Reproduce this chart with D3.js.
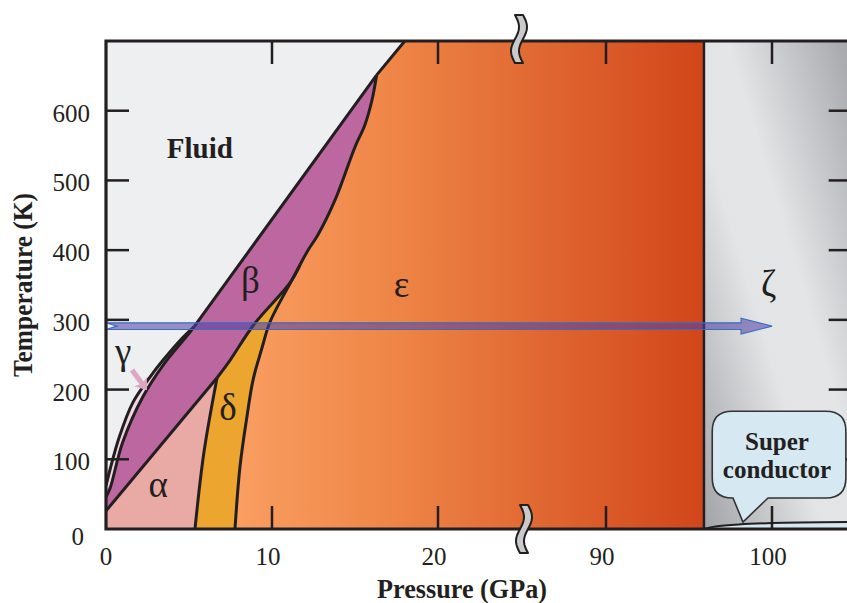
<!DOCTYPE html>
<html><head><meta charset="utf-8">
<script src="https://cdn.jsdelivr.net/npm/d3@7/dist/d3.min.js"></script>
<style>body{margin:0;background:#fff}svg{display:block}</style>
</head><body>
<svg id="c" width="847" height="603"></svg>
<script>
// ---- data (pressure in GPa, temperature in K) ----
const xTicks=[0,10,20,90,100];
const yTicks=[0,100,200,300,400,500,600];
const meltLine=[[0,62],[0.24,85],[0.8,132],[1.63,182],[2.65,218],[3.43,242],[4.64,275],[5.3,290],[16.3,651],[18.0,700]];
const gammaBeta=[[0,46],[0.24,58],[1.0,124],[2.23,190],[3.5,237],[4.88,277],[5.3,290]];
const betaAlpha=[[0,26],[6.69,217]];
const betaDelta=[[6.69,217],[7.47,242],[8.9,293],[11.08,353],[11.69,379]];
const betaEps=[[11.69,379],[12.17,400],[12.77,422],[13.8,472],[15.0,548],[15.6,580],[16.02,615],[16.3,651]];
const deltaEps=[[7.77,0],[8.07,89],[8.49,161],[8.86,214],[9.4,260],[9.88,297],[11.2,357],[11.69,379]];
const alphaDelta=[[5.36,0],[5.9,110],[6.69,217]];
const zetaP=95.9;
const superLine=[[95.9,0],[96.6,3.5],[98,6.5],[100,8.5],[104.8,10]];
const roomT=291, arrowEndP=100;
const phaseLabels=[{t:"α",p:3.15,T:46},{t:"β",p:8.7,T:339},{t:"γ",p:1.03,T:237},{t:"δ",p:7.35,T:157},{t:"ε",p:17.8,T:333},{t:"ζ",p:99.8,T:334}];
const gammaArrow=[[1.57,228],[2.47,199]];
const bubble={p0:96.4,p1:104.45,T0:44.5,T1:169,tailL:97.65,tailR:99.76,tipP:98.25,tipT:10};

// ---- scales ----
const pMax=104.8,tMax=700;
const x=d3.scaleLinear().domain([0,25,85,pMax]).range([106,521,523,523+(pMax-85)*16.6]);
const y=d3.scaleLinear().domain([0,tMax]).range([529,41]);
const svg=d3.select("#c");
const ink="#231F20";
const serif='"Liberation Serif","Times New Roman",serif';

const defs=svg.append("defs");
const eg=defs.append("linearGradient").attr("id","eps").attr("gradientUnits","userSpaceOnUse")
  .attr("x1",x(7.5)).attr("x2",x(zetaP)).attr("y1",0).attr("y2",0);
eg.append("stop").attr("offset",0).attr("stop-color","#FA9F62");
eg.append("stop").attr("offset",0.35).attr("stop-color","#EE8546");
eg.append("stop").attr("offset",1).attr("stop-color","#D1461A");
const zg=defs.append("linearGradient").attr("id","zeta").attr("x1",1).attr("y1",0).attr("x2",0).attr("y2",1);
zg.append("stop").attr("offset",0).attr("stop-color","#A4A5A8");
zg.append("stop").attr("offset",0.42).attr("stop-color","#E4E5E7");
zg.append("stop").attr("offset",0.6).attr("stop-color","#E3E4E6");
zg.append("stop").attr("offset",1).attr("stop-color","#A2A3A6");
defs.append("clipPath").attr("id","plot").append("rect")
  .attr("x",x(0)).attr("y",y(tMax)).attr("width",x(pMax)-x(0)).attr("height",y(0)-y(tMax));

const curve=d3.line().x(d=>x(d[0])).y(d=>y(d[1])).curve(d3.curveCatmullRom.alpha(0.5));
const lin=d3.line().x(d=>x(d[0])).y(d=>y(d[1]));
const cont=(g,pts)=>g(pts).replace(/^M/,"L");
const rev=a=>a.slice().reverse();
const meltLow=meltLine.slice(0,8), meltMid=meltLine.slice(7,9), meltTop=meltLine.slice(8);

const g=svg.append("g").attr("clip-path","url(#plot)");
g.append("rect").attr("x",x(0)).attr("y",y(tMax)).attr("width",x(pMax)-x(0)).attr("height",y(0)-y(tMax)).attr("fill","#EEEFF1");
g.append("rect").attr("x",x(zetaP)).attr("y",y(tMax)).attr("width",x(pMax)-x(zetaP)).attr("height",y(0)-y(tMax)).attr("fill","url(#zeta)");
g.append("path").attr("fill","url(#eps)")
  .attr("d",curve(deltaEps)+cont(curve,betaEps)+cont(lin,meltTop)+cont(lin,[[18,tMax],[zetaP,tMax],[zetaP,0],[7.77,0]])+"Z");
g.append("path").attr("fill","#BD67A0")
  .attr("d",curve(gammaBeta)+cont(lin,meltMid)+cont(curve,rev(betaEps))+cont(curve,rev(betaDelta))+cont(lin,rev(betaAlpha))+"Z");
g.append("path").attr("fill","#F1D6E3").attr("d",curve(meltLow)+cont(curve,rev(gammaBeta))+"Z");
g.append("path").attr("fill","#E9A9A4").attr("d",lin([[0,0],[5.36,0]])+cont(curve,alphaDelta)+cont(lin,rev(betaAlpha))+"Z");
g.append("path").attr("fill","#ECA52F").attr("d",lin([[5.36,0],[7.77,0]])+cont(curve,deltaEps)+cont(curve,rev(betaDelta))+cont(curve,rev(alphaDelta))+"Z");
g.append("path").attr("fill","#D5E7F1").attr("d",curve(superLine)+cont(lin,[[pMax,10],[pMax,0]])+"Z");

[meltLow,gammaBeta,betaAlpha,betaDelta,betaEps,deltaEps,alphaDelta].forEach(s=>{
  g.append("path").attr("d",curve(s)).attr("fill","none").attr("stroke",ink).attr("stroke-width",3).attr("stroke-linejoin","round");
});
[meltMid,meltTop].forEach(s=>g.append("path").attr("d",lin(s)).attr("fill","none").attr("stroke",ink).attr("stroke-width",3).attr("stroke-linejoin","round"));
g.append("path").attr("d",curve(superLine)).attr("fill","none").attr("stroke",ink).attr("stroke-width",2);
g.append("line").attr("x1",x(zetaP)).attr("x2",x(zetaP)).attr("y1",y(0)).attr("y2",y(tMax)).attr("stroke",ink).attr("stroke-width",2.5);

const tl=23;
yTicks.filter(t=>t>0).forEach(t=>{
  g.append("line").attr("x1",x(0)).attr("x2",x(0)+tl).attr("y1",y(t)).attr("y2",y(t)).attr("stroke",ink).attr("stroke-width",2.5);
  g.append("line").attr("x1",x(pMax)).attr("x2",x(pMax)-tl).attr("y1",y(t)).attr("y2",y(t)).attr("stroke",ink).attr("stroke-width",2.5);
});
xTicks.filter(p=>p>0).forEach(p=>{
  g.append("line").attr("x1",x(p)).attr("x2",x(p)).attr("y1",y(0)).attr("y2",y(0)-tl).attr("stroke",ink).attr("stroke-width",2.5);
  g.append("line").attr("x1",x(p)).attr("x2",x(p)).attr("y1",y(tMax)).attr("y2",y(tMax)+tl).attr("stroke",ink).attr("stroke-width",2.5);
});

// room temperature arrow
{
  const y0=y(roomT), x0=x(0), xt=x(arrowEndP), sh=3.3, hh=8, hl=31;
  const pts=[[x0,y0-sh],[xt-hl,y0-sh],[xt-hl,y0-hh],[xt,y0],[xt-hl,y0+hh],[xt-hl,y0+sh],[x0,y0+sh],[x0+11,y0]];
  svg.append("path").attr("d","M"+pts.map(d=>d.join(",")).join("L")+"Z")
    .attr("fill","rgba(80,62,165,0.55)").attr("stroke","#3A6CC0").attr("stroke-width",1.1).attr("stroke-linejoin","miter");
}
// gamma arrow
{
  const [a,b]=gammaArrow.map(d=>[x(d[0]),y(d[1])]);
  const ang=Math.atan2(b[1]-a[1],b[0]-a[0]);
  const L=Math.hypot(b[0]-a[0],b[1]-a[1]);
  const ga=svg.append("g").attr("transform",`translate(${a[0]},${a[1]}) rotate(${ang*180/Math.PI})`);
  ga.append("path").attr("d",`M0,-2.6L${L-9},-2.6L${L-11},-8L${L},0L${L-11},8L${L-9},2.6L0,2.6Z`).attr("fill","#DDA7C4");
}

svg.append("path").attr("d",`M${x(pMax)},${y(tMax)}H${x(0)}V${y(0)}H${x(pMax)}`).attr("fill","none").attr("stroke",ink).attr("stroke-width",3.2);
svg.append("line").attr("x1",x(pMax)).attr("x2",x(pMax)).attr("y1",y(0)).attr("y2",y(tMax)).attr("stroke",ink).attr("stroke-width",3.2);

function brk(cx,cy){
  const n=24,amp=4,h=48,w=8;
  const left=[],right=[];
  for(let i=0;i<=n;i++){const t=i/n;const yy=cy-h/2+h*t;const xx=cx+amp*Math.sin(2*Math.PI*t);left.push([xx-w/2,yy]);right.push([xx+w/2,yy]);}
  const pts=left.concat(right.reverse());
  svg.append("path").attr("d","M"+pts.map(d=>d.join(",")).join("L")+"Z").attr("fill","#C9CACC").attr("stroke",ink).attr("stroke-width",2).attr("stroke-linejoin","round");
}
brk(x(25)-2,y(tMax)-2);
brk(x(25)+3,y(0));

{
  const bx0=x(bubble.p0),bx1=x(bubble.p1),by0=y(bubble.T1),by1=y(bubble.T0),r=20;
  const tl_=x(bubble.tailL),tr=x(bubble.tailR),tx=x(bubble.tipP),ty=y(bubble.tipT);
  const d=`M${bx0+r},${by0}H${bx1-r}Q${bx1},${by0} ${bx1},${by0+r}V${by1-r}Q${bx1},${by1} ${bx1-r},${by1}H${tr}L${tx},${ty}L${tl_},${by1}H${bx0+r}Q${bx0},${by1} ${bx0},${by1-r}V${by0+r}Q${bx0},${by0} ${bx0+r},${by0}Z`;
  svg.append("path").attr("d",d).attr("fill","#D6E8F2").attr("stroke","#333").attr("stroke-width",1.6);
  const cx=(x(99.5)+x(101.1))/2;
  svg.append("text").attr("x",cx).attr("y",y(113)).attr("text-anchor","middle").attr("font-family",serif).attr("font-weight","bold").attr("font-size",25).attr("fill",ink).text("Super");
  svg.append("text").attr("x",cx).attr("y",y(73)).attr("text-anchor","middle").attr("font-family",serif).attr("font-weight","bold").attr("font-size",25).attr("fill",ink).text("conductor");
}

xTicks.forEach(p=>{
  svg.append("text").attr("x",x(p)+(p===0?0:-4)).attr("y",565).attr("text-anchor","middle")
    .attr("font-family",serif).attr("font-size",25).attr("fill",ink).text(p);
});
yTicks.forEach(t=>{
  svg.append("text").attr("x",t===0?84:90).attr("y",y(t)+(t===0?16:11)).attr("text-anchor","end")
    .attr("font-family",serif).attr("font-size",25).attr("fill",ink).text(t);
});
svg.append("text").attr("x",462).attr("y",598).attr("text-anchor","middle").attr("font-family",serif).attr("font-weight","bold")
  .attr("font-size",28).attr("textLength",170).attr("lengthAdjust","spacingAndGlyphs").attr("fill",ink).text("Pressure (GPa)");
svg.append("text").attr("transform","translate(32,285) rotate(-90)").attr("text-anchor","middle").attr("font-family",serif).attr("font-weight","bold")
  .attr("font-size",28).attr("textLength",184).attr("lengthAdjust","spacingAndGlyphs").attr("fill",ink).text("Temperature (K)");

svg.append("text").attr("x",x(5.65)).attr("y",y(532)).attr("text-anchor","middle").attr("font-family",serif).attr("font-weight","bold").attr("font-size",29).attr("fill",ink).text("Fluid");
phaseLabels.forEach(l=>{
  svg.append("text").attr("x",x(l.p)).attr("y",y(l.T)).attr("text-anchor","middle").attr("font-family",serif).attr("font-size",37).attr("fill",ink).text(l.t);
});
</script>
</body></html>
